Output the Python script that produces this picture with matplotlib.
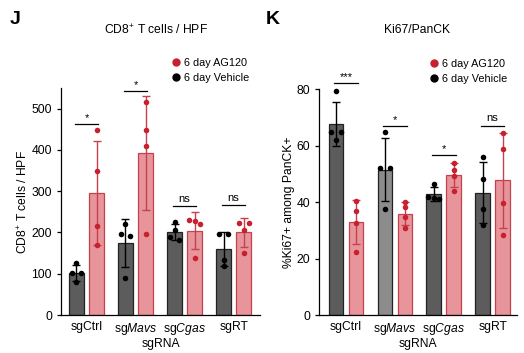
#!/usr/bin/env python3

import numpy as np
import matplotlib
matplotlib.use('Agg')
import matplotlib.pyplot as plt
from matplotlib.lines import Line2D

plt.rcParams['font.family'] = ['Liberation Sans', 'DejaVu Sans']
plt.rcParams['mathtext.fontset'] = 'custom'
plt.rcParams['mathtext.rm'] = 'Liberation Sans'
plt.rcParams['mathtext.it'] = 'Liberation Sans:italic'

# Group names on the x axis
groups = ['sgCtrl', 'sg$\\it{Mavs}$', 'sg$\\it{Cgas}$', 'sgRT']

# Panel J: CD8+ T cells per high power field (4 mice per bar)
cd8_vehicle = [[127, 102, 102, 79], [197, 220, 192, 89],
               [225, 207, 189, 181], [196, 196, 133, 118]]
cd8_ag120 = [[448, 348, 216, 170], [515, 448, 410, 196],
             [228, 231, 220, 139], [223, 223, 205, 150]]
cd8_sig = ['*', '*', 'ns', 'ns']
cd8_sig_level = [464, 543, 263, 266]

# Panel K: %Ki67+ among PanCK+
ki67_vehicle = [[79.4, 64.9, 64.9, 61.9], [64.8, 52.0, 52.0, 37.5],
                [46.5, 42.0, 41.5, 41.2], [55.9, 48.2, 37.5, 32.0]]
ki67_ag120 = [[40.3, 36.9, 32.6, 22.4], [40.0, 38.2, 34.9, 30.8],
              [54.0, 51.4, 49.4, 44.1], [64.6, 58.9, 39.6, 28.4]]
ki67_sig = ['***', '*', '*', 'ns']
ki67_sig_level = [82.1, 67.1, 56.7, 67.0]

# Colours
DARK = '#5c5c5c'
LIGHT_GRAY = '#8c8c8c'
PINK = '#e8949b'
RED_EDGE = '#c4424e'
RED_DOT = '#c8202e'

BAR_W = 0.30
OFFSET = 0.205
FONT = 8.7


def spread(values, px_per_unit, thresh_px=5.0):
    # simple swarm: points whose values sit close together are spread sideways
    order = np.argsort(values)[::-1]
    offs = np.zeros(len(values))
    grp = [order[0]]
    clusters = []
    for i in order[1:]:
        if (values[grp[-1]] - values[i]) * px_per_unit < thresh_px:
            grp.append(i)
        else:
            clusters.append(grp)
            grp = [i]
    clusters.append(grp)
    for g in clusters:
        n = len(g)
        if n == 1:
            continue
        step = min(0.2, 0.22 / (n - 1))
        for k, idx in enumerate(g):
            offs[idx] = (k - (n - 1) / 2) * step
    return offs


def draw_panel(ax, vehicle, ag120, sig, sig_level, ylim, yticks, px_per_unit,
               vehicle_colors):
    x = np.arange(len(groups))
    for i in range(len(groups)):
        for vals, xc, fill, edge, dot in (
                (vehicle[i], x[i] - OFFSET, vehicle_colors[i], '#222222', 'black'),
                (ag120[i], x[i] + OFFSET, PINK, RED_EDGE, RED_DOT)):
            vals = np.array(vals, dtype=float)
            mean = vals.mean()
            sd = vals.std(ddof=1)
            ax.bar(xc, mean, width=BAR_W, color=fill, edgecolor=edge,
                   linewidth=0.9, zorder=1)
            ax.errorbar(xc, mean, yerr=sd, color=edge if dot != 'black' else 'black',
                        capsize=3, elinewidth=1.0, capthick=1.0, zorder=2,
                        clip_on=False)
            ax.scatter(xc + spread(vals, px_per_unit), vals, s=16, color=dot,
                       zorder=3, clip_on=False, linewidths=0)
        # significance line and label
        ax.plot([x[i] - 0.24, x[i] + 0.24], [sig_level[i]] * 2, color='black',
                linewidth=0.9, clip_on=False)
        ax.text(x[i], sig_level[i] + (ylim[1] * 0.004 if sig[i] != 'ns' else ylim[1] * 0.012),
                sig[i], ha='center', va='bottom', fontsize=8, clip_on=False)
    ax.set_ylim(*ylim)
    ax.set_yticks(yticks)
    ax.set_xticks(x)
    ax.set_xticklabels(groups, fontsize=FONT)
    ax.tick_params(axis='y', labelsize=FONT, length=3, width=0.9)
    ax.tick_params(axis='x', length=0, pad=4)
    for side in ('top', 'right'):
        ax.spines[side].set_visible(False)
    for side in ('left', 'bottom'):
        ax.spines[side].set_linewidth(0.9)
    ax.set_xlabel('sgRNA', fontsize=FONT, labelpad=1)
    handles = [Line2D([], [], marker='o', linestyle='', color=RED_DOT, markersize=5,
                      label='6 day AG120'),
               Line2D([], [], marker='o', linestyle='', color='black', markersize=5,
                      label='6 day Vehicle')]
    ax.legend(handles=handles, loc='lower left', bbox_to_anchor=(0.52, 1.0),
              frameon=False, fontsize=7.8, handletextpad=0.1, handlelength=1.2,
              borderpad=0, labelspacing=0.45)


fig = plt.figure(figsize=(5.24, 3.53), dpi=100)

ax_j = fig.add_axes([0.1164, 0.1076, 0.380, 0.643])
draw_panel(ax_j, cd8_vehicle, cd8_ag120, cd8_sig, cd8_sig_level,
           (0, 550), [0, 100, 200, 300, 400, 500], 0.414, [DARK] * 4)
ax_j.set_xlim(-0.52, 3.54)
ax_j.set_ylabel('CD8$^{+}$ T cells / HPF', fontsize=FONT, labelpad=1)

ax_k = fig.add_axes([0.6088, 0.1068, 0.378, 0.640])
draw_panel(ax_k, ki67_vehicle, ki67_ag120, ki67_sig, ki67_sig_level,
           (0, 80), [0, 20, 40, 60, 80], 2.825, [DARK, LIGHT_GRAY, DARK, DARK])
ax_k.set_xlim(-0.553, 3.50)
ax_k.set_ylabel('%Ki67+ among PanCK+', fontsize=FONT, labelpad=1)

# Titles and panel letters
fig.text(0.297, 0.915, 'CD8$^{+}$ T cells / HPF', ha='center', va='center', fontsize=FONT)
fig.text(0.796, 0.915, 'Ki67/PanCK', ha='center', va='center', fontsize=FONT)
fig.text(0.018, 0.945, 'J', fontsize=14, fontweight='bold', va='center')
fig.text(0.508, 0.945, 'K', fontsize=14, fontweight='bold', va='center')

fig.savefig('out.png', dpi=100)
